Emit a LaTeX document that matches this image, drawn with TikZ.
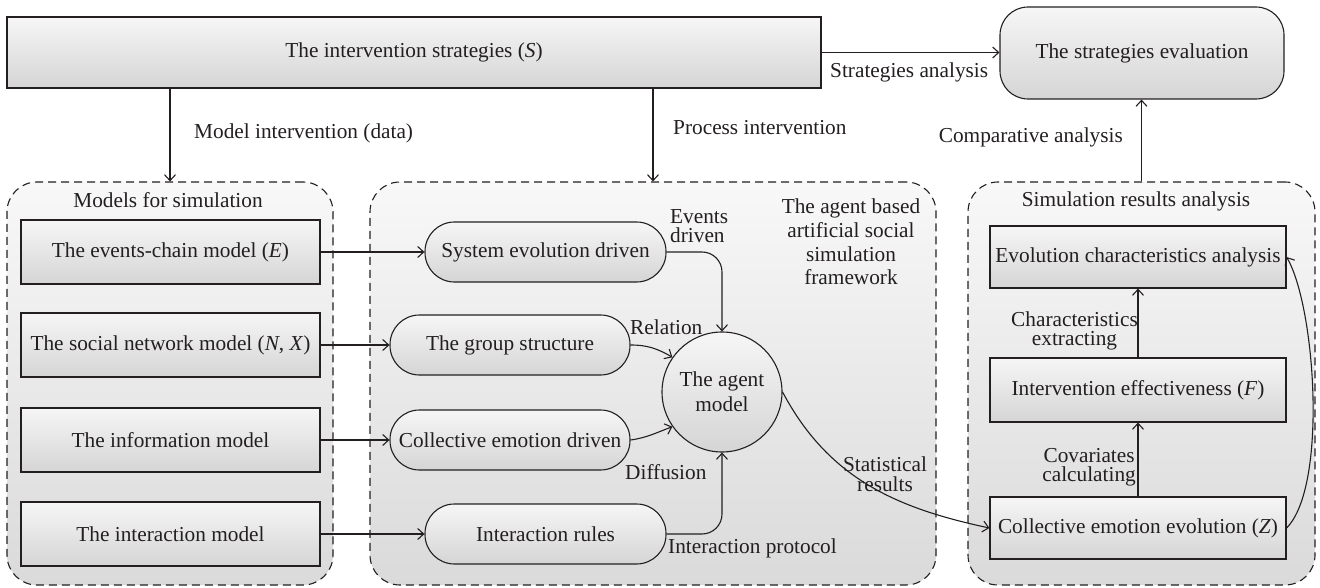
\documentclass[tikz,border=0pt]{standalone}
\usepackage{fontspec}
\setmainfont{Liberation Serif}
\usetikzlibrary{arrows.meta,shapes.geometric}
\definecolor{ink}{HTML}{231F20}
\definecolor{shadetop}{HTML}{F6F6F6}
\definecolor{shadebot}{HTML}{D5D5D5}
\definecolor{grptop}{HTML}{F8F8F8}
\definecolor{grpbot}{HTML}{DADADA}
\begin{document}
\begin{tikzpicture}[x=1pt,y=1pt,
  font=\fontsize{21.3}{22}\selectfont, text=ink,
  shaded/.style={draw=ink, line width=1.1pt, top color=shadetop, bottom color=shadebot, inner sep=0pt, align=center},
  box/.style={shaded, rectangle},
  pill/.style={shaded, rounded corners=29.5pt, minimum height=60pt},
  group/.style={draw=ink, line width=1.1pt, dash pattern=on 8pt off 5pt, rounded corners=30pt,
                top color=grptop, bottom color=grpbot, minimum height=403pt, inner sep=0pt},
  lbl/.style={inner sep=0pt, font=\fontsize{21.3}{19.5}\selectfont},
  arr/.style={draw=ink, line width=1.1pt, -{Straight Barb[length=6pt,width=11pt]}}]

\useasboundingbox (0,0) rectangle (1320,-588);

% dashed containers
\node[group, minimum width=326pt] (lgrp) at (170,-383.5) {};
\node[group, minimum width=566pt] (mgrp) at (653,-383.5) {};
\node[group, minimum width=347pt] (rgrp) at (1141.5,-383.5) {};

% container titles
\node[lbl] (ltitle) at (168,-200) {Models for simulation};
\node[lbl, align=center, font=\fontsize{21.3}{23.7}\selectfont] (mtitle) at (851,-242)
  {The agent based\\artificial social\\simulation\\framework};
\node[lbl] (rtitle) at (1136,-201) {Simulation results analysis};

% top row
\node[box, minimum width=814pt, minimum height=71pt] (strat) at (414,-52.5) {The intervention strategies (\textit{S})};
\node[shaded, rounded corners=28pt, minimum width=284pt, minimum height=92pt] (eval) at (1142,-53) {The strategies evaluation};

% models for simulation
\node[box, minimum width=299pt, minimum height=64pt] (ev) at (170.5,-252) {The events-chain model (\textit{E})};
\node[box, minimum width=299pt, minimum height=64pt] (soc) at (170.5,-345) {The social network model (\textit{N}, \textit{X})};
\node[box, minimum width=299pt, minimum height=64pt] (inf) at (170.5,-440) {The information model};
\node[box, minimum width=299pt, minimum height=64pt] (imod) at (170.5,-534) {The interaction model};

% agent based framework
\node[pill, minimum width=241pt] (sys) at (545.5,-252) {System evolution driven};
\node[pill, minimum width=240pt] (grp) at (510,-345) {The group structure};
\node[pill, minimum width=240pt] (coll) at (510,-440) {Collective emotion driven};
\node[pill, minimum width=241pt] (rules) at (545.5,-534) {Interaction rules};
\node[shaded, circle, minimum size=120pt, font=\fontsize{21.3}{25}\selectfont] (agent) at (722,-392) {The agent\\model};

% simulation results analysis
\node[box, minimum width=296pt, minimum height=62pt] (evol) at (1138,-257) {Evolution characteristics analysis};
\node[box, minimum width=296pt, minimum height=64pt] (eff) at (1138,-390) {Intervention effectiveness (\textit{F})};
\node[box, minimum width=296pt, minimum height=62pt] (cz) at (1138,-528) {Collective emotion evolution (\textit{Z})};

% connectors
\draw[arr] (strat.south -| lgrp.north) -- (lgrp.north);
\draw[arr] (strat.south -| mgrp.north) -- (mgrp.north);
\draw[arr] (strat.east) -- (strat.east -| eval.west);
\draw[arr] (rgrp.north) -- (rgrp.north |- eval.south);

\draw[arr] (ev.east) -- (sys.west);
\draw[arr] (soc.east) -- (grp.west);
\draw[arr] (inf.east) -- (coll.west);
\draw[arr] (imod.east) -- (rules.west);

\draw[arr, rounded corners=20pt] (sys.east) -| (agent.north);
\draw[arr] (grp.east) to[out=0,in=150] (agent.145);
\draw[arr] (coll.east) to[out=8,in=200] (agent.215);
\draw[arr, rounded corners=20pt] (rules.east) -| (agent.south);

\draw[arr] (agent.east) to[out=-62,in=168] (cz.west);
\draw[arr] (cz.north) -- (eff.south);
\draw[arr] (eff.north) -- (evol.south);
\draw[arr] (cz.east) to[out=45,in=-60,looseness=0.55] (evol.east);

% connector labels
\node[lbl, anchor=west] (lmodel) at (194,-133) {Model intervention (data)};
\node[lbl, anchor=west] (lproc) at (673,-128) {Process intervention};
\node[lbl, anchor=west] (lstrat) at (830,-72) {Strategies analysis};
\node[lbl, anchor=east] (lcomp) at (1123,-137) {Comparative analysis};
\node[lbl, anchor=west, align=left] (levents) at (670,-226) {Events\\driven};
\node[lbl, anchor=west] (lrel) at (630,-327) {Relation};
\node[lbl, anchor=west] (ldiff) at (625,-472) {Diffusion};
\node[lbl, anchor=west] (lprot) at (668,-548) {Interaction protocol};
\node[lbl, align=center] (lstat) at (885,-474) {Statistical\\results};
\node[lbl, anchor=east, align=center] (lchar) at (1138,-331) {Characteristics\\extracting};
\node[lbl, anchor=east, align=center] (lcov) at (1136,-467) {Covariates\\calculating};

\end{tikzpicture}
\end{document}
